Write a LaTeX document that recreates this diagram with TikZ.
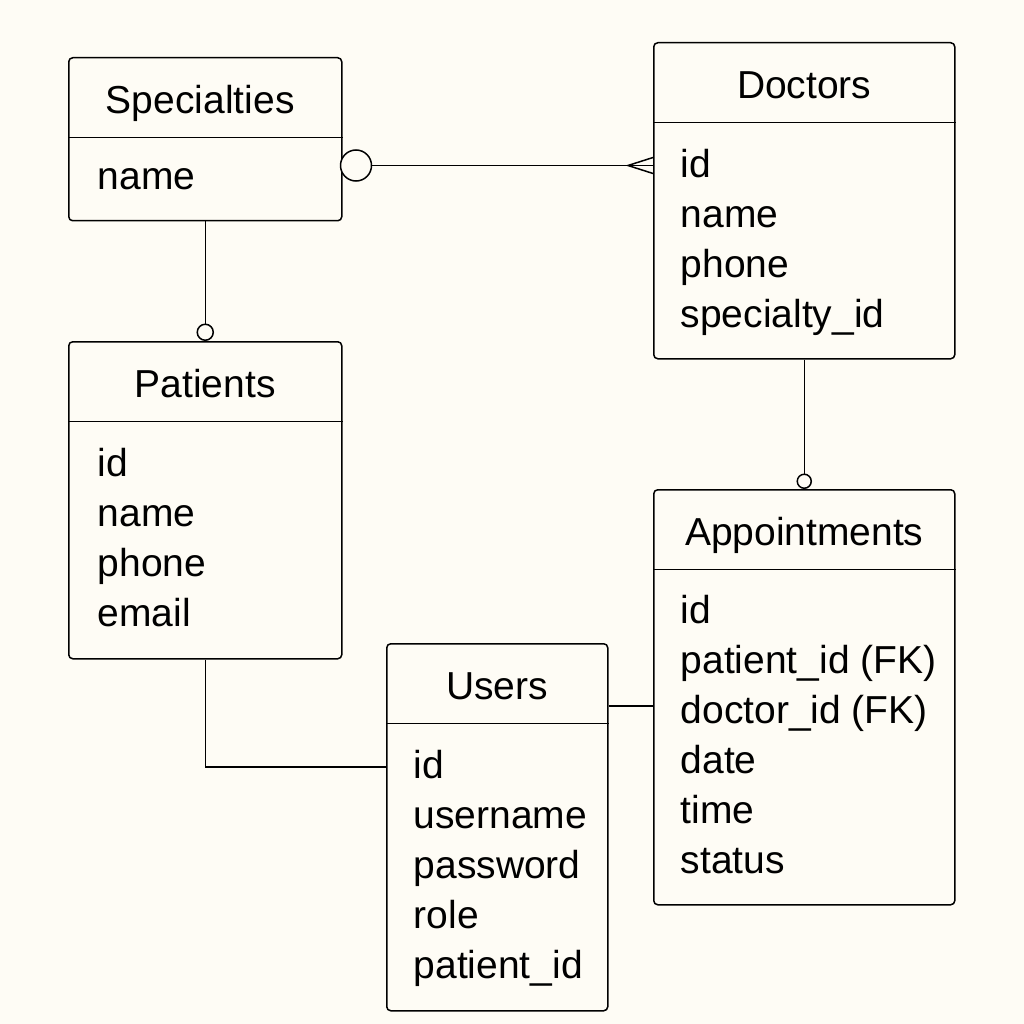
\documentclass[tikz,border=0pt]{standalone}
\usepackage{fontspec}
\setmainfont{Liberation Sans}
\usetikzlibrary{positioning}
\definecolor{paper}{HTML}{FEFCF5}

\begin{document}
\begin{tikzpicture}[x=1pt,y=-1pt,line width=1.5pt]
\tikzstyle{entity}=[draw,rounded corners=4pt,anchor=north west,inner sep=0pt]
\tikzstyle{title}=[minimum height=79pt,text height=32pt,text depth=0pt,inner sep=0pt,font=\fontsize{39}{50}\selectfont]
\tikzstyle{attr}=[anchor=base west,inner sep=0pt,font=\fontsize{39}{50}\selectfont]
\tikzstyle{bigo}=[circle,draw,fill=paper,minimum size=31pt,inner sep=0pt]
\tikzstyle{smallo}=[circle,draw,fill=paper,minimum size=16pt,inner sep=0pt]

  %--- background ---
  \fill[paper] (0,0) rectangle (1024,1024);
  \useasboundingbox (0,0) rectangle (1024,1024);

  %--- entities ---
  \node[entity, minimum width=273pt, minimum height=163pt] (spec) at (68,57) {};
  \node[title, below=0pt of spec.north, xshift=-5pt] (spec-t) {Specialties};
  \draw (spec.west |- spec-t.south) -- (spec.east |- spec-t.south);
  \node[attr] (spec-a1) at ([xshift=29pt,yshift=-52pt]spec.west |- spec-t.south) {name};

  \node[entity, minimum width=301pt, minimum height=316pt] (doc) at (653,42) {};
  \node[title, below=0pt of doc.north] (doc-t) {Doctors};
  \draw (doc.west |- doc-t.south) -- (doc.east |- doc-t.south);
  \foreach \a [count=\i] in {id,name,phone,specialty\_id}
    \node[attr] (doc-a\i) at ([xshift=27pt,yshift={-5pt-50pt*\i}]doc.west |- doc-t.south) {\a};

  \node[entity, minimum width=273pt, minimum height=317pt] (pat) at (68,341) {};
  \node[title, below=0pt of pat.north] (pat-t) {Patients};
  \draw (pat.west |- pat-t.south) -- (pat.east |- pat-t.south);
  \foreach \a [count=\i] in {id,name,phone,email}
    \node[attr] (pat-a\i) at ([xshift=29pt,yshift={-5pt-50pt*\i}]pat.west |- pat-t.south) {\a};

  \node[entity, minimum width=301pt, minimum height=415pt] (app) at (653,489) {};
  \node[title, below=0pt of app.north] (app-t) {Appointments};
  \draw (app.west |- app-t.south) -- (app.east |- app-t.south);
  \foreach \a [count=\i] in {id,patient\_id (FK),doctor\_id (FK),date,time,status}
    \node[attr] (app-a\i) at ([xshift=27pt,yshift={-4pt-50pt*\i}]app.west |- app-t.south) {\a};

  \node[entity, minimum width=221pt, minimum height=367pt] (usr) at (386,643) {};
  \node[title, below=0pt of usr.north] (usr-t) {Users};
  \draw (usr.west |- usr-t.south) -- (usr.east |- usr-t.south);
  \foreach \a [count=\i] in {id,username,password,role,patient\_id}
    \node[attr] (usr-a\i) at ([xshift=27pt,yshift={-5pt-50pt*\i}]usr.west |- usr-t.south) {\a};

  %--- relationships ---
  \node[bigo] (o-spec) at (356,165.5) {};
  \draw (o-spec) -- (doc.west |- o-spec);
  \draw (doc.west |- o-spec) ++(0,-8) -- ++(-25,8) -- ++(25,8);

  \node[smallo, above=0pt of pat.north] (o-pat) {};
  \draw (spec.south) -- (o-pat);

  \node[smallo, minimum size=14pt, above=0pt of app.north] (o-app) {};
  \draw (doc.south) -- (o-app);

  \coordinate (ua) at (0,706);
  \draw (usr.east |- ua) -- (app.west |- ua);

  \coordinate (pu) at (0,767);
  \draw (pat.south) |- (usr.west |- pu);
\end{tikzpicture}
\end{document}
